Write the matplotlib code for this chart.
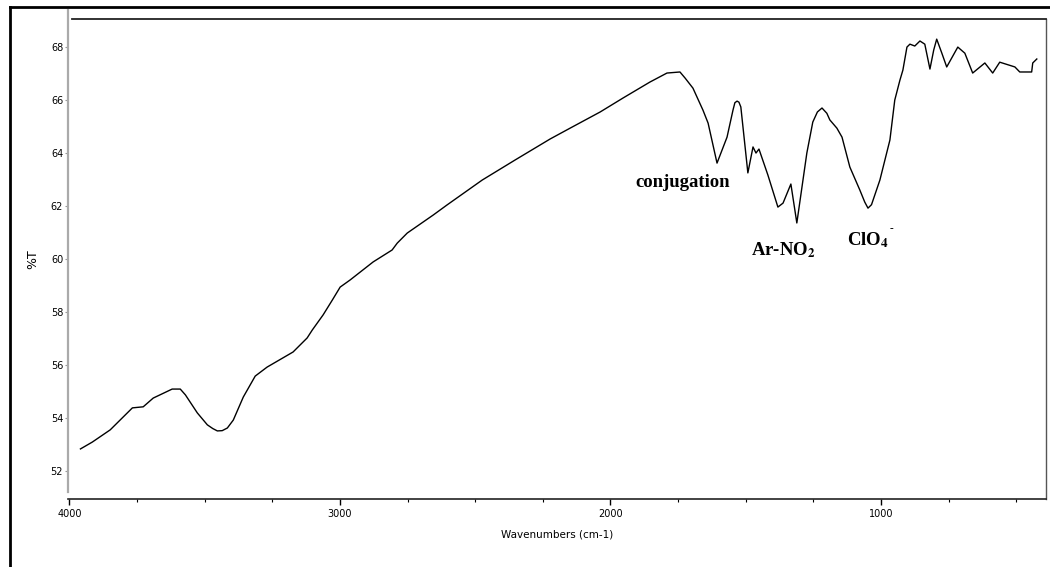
import matplotlib.pyplot as plt
from matplotlib.lines import Line2D

plt.rcParams['mathtext.fontset'] = 'stix'

# spectrum
wavenumber = [3959, 3915, 3849, 3767, 3727, 3690, 3620, 3590, 3571, 3527,
              3490, 3470, 3453, 3435, 3416, 3394, 3357, 3313, 3269, 3173,
              3121, 3102, 3062, 3028, 2999, 2962, 2877, 2807, 2788, 2751,
              2655, 2604, 2474, 2352, 2223, 2149, 2038, 1953, 1854, 1791,
              1743, 1724, 1695, 1658, 1639, 1606, 1569, 1547, 1540, 1532,
              1525, 1518, 1492, 1473, 1462, 1451, 1418, 1381, 1362, 1333,
              1311, 1274, 1252, 1235, 1218, 1200, 1189, 1163, 1144, 1115,
              1078, 1060, 1048, 1035, 1004, 967, 949, 930, 919, 904,
              893, 875, 856, 838, 819, 805, 794, 775, 757, 716,
              690, 661, 616, 587, 561, 505, 487, 443, 439, 424]
transmittance = [52.83, 53.09, 53.55, 54.38, 54.42, 54.75, 55.09, 55.09, 54.87, 54.19,
                 53.74, 53.60, 53.51, 53.52, 53.62, 53.92, 54.79, 55.58, 55.92, 56.49,
                 57.02, 57.32, 57.89, 58.45, 58.94, 59.21, 59.89, 60.34, 60.60, 60.98,
                 61.66, 62.04, 62.98, 63.74, 64.53, 64.94, 65.55, 66.08, 66.68, 67.02,
                 67.06, 66.83, 66.45, 65.62, 65.13, 63.62, 64.60, 65.62, 65.90, 65.96,
                 65.92, 65.74, 63.25, 64.23, 64.00, 64.15, 63.17, 61.96, 62.11, 62.83,
                 61.36, 64.00, 65.17, 65.55, 65.70, 65.50, 65.25, 64.94, 64.60, 63.47,
                 62.60, 62.15, 61.92, 62.05, 62.98, 64.49, 66.00, 66.75, 67.13, 68.00,
                 68.11, 68.04, 68.23, 68.11, 67.17, 67.89, 68.30, 67.77, 67.25, 68.00,
                 67.77, 67.02, 67.40, 67.02, 67.43, 67.25, 67.06, 67.06, 67.40, 67.55]

y_ticks = [52, 54, 56, 58, 60, 62, 64, 66, 68]
x_ticks = [4000, 3000, 2000, 1000]

fig = plt.figure(figsize=(10.5, 5.67), dpi=100)
ax = fig.add_axes([68 / 1050, 1 - 499 / 567, (1046 - 68) / 1050, (499 - 19) / 567])

ax.plot(wavenumber, transmittance, color='black', linewidth=1.0)

ax.set_xlim(4005, 390)
ax.set_ylim(50.94, 69.06)
ax.set_xticks(x_ticks)
ax.set_xticks(range(3750, 399, -250), minor=True)
ax.set_yticks(y_ticks)
ax.tick_params(axis='x', which='major', direction='out', length=4, width=1, labelsize=7, pad=3)
ax.tick_params(axis='x', which='minor', direction='out', length=2.5, width=0.8)
ax.tick_params(axis='y', direction='out', length=2.5, width=0.8, labelsize=7, pad=1,
               color='#999999')

ax.spines['left'].set_color('#aaaaaa')
ax.spines['left'].set_linewidth(1.6)
ax.spines['left'].set_bounds(51.2, 69.4)
ax.spines['bottom'].set_color('#222222')
ax.spines['bottom'].set_linewidth(1.2)
ax.spines['top'].set_color('#222222')
ax.spines['top'].set_linewidth(1.3)
ax.spines['top'].set_bounds(3990, 390)
ax.spines['right'].set_color('#555555')
ax.spines['right'].set_linewidth(1.0)

ax.set_xlabel('Wavenumbers (cm-1)', fontsize=7.5, labelpad=8)
ax.set_ylabel('%T', fontsize=9, labelpad=8)

ax.text(1732, 62.9, 'conjugation', family='Liberation Serif', weight='bold',
        fontsize=13.5, ha='center', va='center')
ax.text(1362, 60.34, r'Ar-NO$_\mathbf{2}$', family='Liberation Serif', weight='bold',
        fontsize=13.5, ha='center', va='center')
ax.text(1048, 60.72, r'ClO$_\mathbf{4}$', family='Liberation Serif', weight='bold',
        fontsize=13.5, ha='center', va='center')
ax.text(962, 61.15, '-', family='Liberation Serif', weight='bold',
        fontsize=8, ha='center', va='center')

# outer frame around the picture
fig.add_artist(Line2D([10 / 1050, 1.0], [1 - 7 / 567, 1 - 7 / 567], color='black', linewidth=2,
                      transform=fig.transFigure))
fig.add_artist(Line2D([10 / 1050, 10 / 1050], [0.0, 1 - 7 / 567], color='black', linewidth=2,
                      transform=fig.transFigure))

fig.savefig('out.png', dpi=100)
